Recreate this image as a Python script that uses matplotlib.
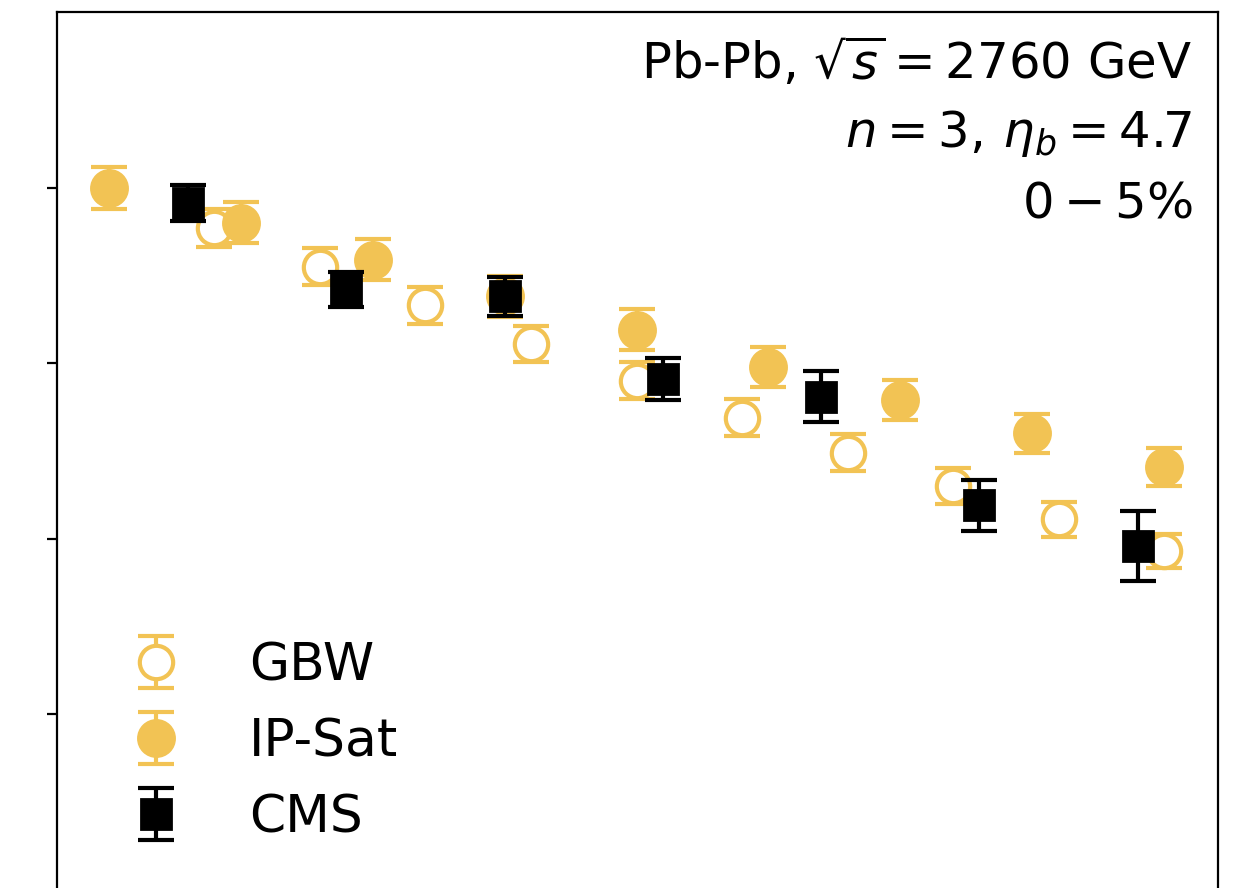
import matplotlib
matplotlib.use("Agg")
import matplotlib.pyplot as plt

# GBW model (open circles)
gbw_x = [1.8, 2.6, 3.4, 4.2, 5.0, 5.8, 6.6, 7.4, 8.2, 9.0]
gbw_y = [0.0377, 0.0355, 0.0333, 0.0311, 0.0290, 0.0269, 0.0249, 0.0230, 0.0211, 0.0193]
gbw_err = [0.00108, 0.00107, 0.00106, 0.00104, 0.00105, 0.00105, 0.00104, 0.00103, 0.00100, 0.00099]

# IP-Sat model (filled circles)
ipsat_x = [1, 2, 3, 4, 5, 6, 7, 8, 9]
ipsat_y = [0.0400, 0.0380, 0.0359, 0.0338, 0.0319, 0.0298, 0.0279, 0.0260, 0.0241]
ipsat_err = [0.00120, 0.00118, 0.00118, 0.00117, 0.00116, 0.00114, 0.00112, 0.00110, 0.00107]

# CMS data
cms_x = [1.6, 2.8, 4.0, 5.2, 6.4, 7.6, 8.8]
cms_y = [0.0391, 0.0342, 0.0338, 0.0291, 0.0281, 0.0219, 0.0196]
cms_err = [0.00103, 0.00101, 0.00109, 0.00118, 0.00147, 0.00146, 0.00199]

yellow = '#f2c354'

fig = plt.figure(figsize=(6.225, 4.44), dpi=200)
ax = fig.add_axes([57 / 1245, -2 / 888, 1161 / 1245, 878 / 888])

ax.errorbar(gbw_x, gbw_y, yerr=gbw_err, fmt='o', ms=12, mfc='white', mec=yellow,
            mew=1.5, ecolor=yellow, elinewidth=1.5, capsize=6.5, capthick=1.5,
            label='GBW', zorder=2)
ax.errorbar(ipsat_x, ipsat_y, yerr=ipsat_err, fmt='o', ms=13, color=yellow,
            ecolor=yellow, elinewidth=1.5, capsize=6.5, capthick=1.5,
            label='IP-Sat', zorder=3)
ax.errorbar(cms_x, cms_y, yerr=cms_err, fmt='s', ms=11, color='black',
            ecolor='black', elinewidth=1.5, capsize=6.5, capthick=1.5,
            label='CMS', zorder=4)

ax.set_xlim(0.606, 9.409)
ax.set_ylim(0, 0.05)
ax.set_yticks([0.01, 0.02, 0.03, 0.04])
ax.set_yticklabels([])
ax.set_xticks([])

ax.text(0.978, 0.9237, r'Pb-Pb, $\sqrt{s} = 2760$ GeV', transform=ax.transAxes,
        ha='right', va='baseline', fontsize=17.9)
ax.text(0.978, 0.8462, r'$n = 3,\, \eta_b = 4.7$', transform=ax.transAxes,
        ha='right', va='baseline', fontsize=17.9)
ax.text(0.978, 0.7654, r'$0-5\%$', transform=ax.transAxes,
        ha='right', va='baseline', fontsize=17.9)

ax.legend(loc='lower left', frameon=False, fontsize=18.7)

fig.savefig('out.png', dpi=200)
